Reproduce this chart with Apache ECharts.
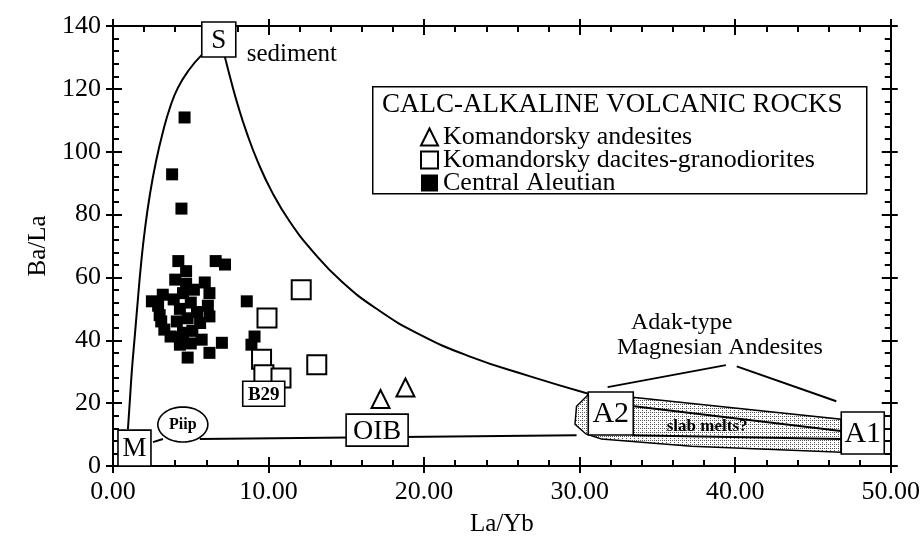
<!DOCTYPE html>
<html><head><meta charset="utf-8">
<script src="https://cdn.jsdelivr.net/npm/echarts@6/dist/echarts.min.js"></script>
<style>html,body{margin:0;padding:0;background:#fff}#c{width:923px;height:542px}</style>
</head><body><div id="c"></div>
<script>
// ---------- DATA ----------
const centralAleutian = [
  [4.6,110.9],[3.8,92.8],[4.4,81.9],
  [4.2,65.2],[6.6,65.2],[7.2,64.1],[4.7,62.0],
  [4.0,59.3],[5.9,58.4],[4.7,58.0],[5.2,56.1],[6.2,55.0],[3.2,54.5],[4.5,55.0],
  [3.9,53.0],[2.5,52.4],[5.0,52.0],[6.1,51.0],[8.6,52.4],[2.9,51.0],[4.3,50.0],
  [5.4,49.0],[3.0,48.0],[6.2,47.6],[4.8,47.0],[3.1,46.0],[4.1,46.0],[5.6,45.5],
  [3.3,43.4],[5.1,43.0],[4.5,42.4],[3.7,41.2],[4.3,41.0],[9.1,41.2],[5.7,40.2],
  [7.0,39.2],[5.0,39.0],[8.9,38.6],[4.3,38.6],[6.2,36.0],[4.8,34.5]
];
const komandorskyDacites = [[12.1,56.1],[9.9,47.1],[9.55,34.0],[9.7,29.0],[10.8,28.0],[13.1,32.2]];
const komandorskyAndesites = [[17.2,21.3],[18.8,25.0]];

const leftCurve = [[0.96,11.7],[1.09,21.3],[1.22,30.8],[1.41,41.9],[1.60,53.0],[1.80,64.1],[2.05,75.2],[2.37,86.3],[2.76,96.8],[3.21,106.3],[3.66,114.0],[4.17,120.3],[4.88,126.0],[5.71,130.8]];
const rightCurve = [[7.19,130.2],[7.57,122.9],[8.02,114.9],[8.60,106.0],[9.31,96.8],[10.21,87.3],[11.36,77.8],[12.84,68.3],[14.70,58.7],[17.01,49.8],[19.70,41.9],[22.91,34.9],[26.77,28.6],[30.62,22.9]];
const slabMeltArea = [[33.4,21.9],[46.8,14.9],[46.8,4.4],[37.2,6.3],[31.4,8.6],[30.4,10.2],[29.7,13.3],[29.8,19.0],[30.6,22.9]];
const segments = [
  [[31.8,25.1],[39.4,32.1]],
  [[40.1,31.7],[46.5,20.6]],
  [[33.5,19.0],[46.8,11.1]],
  [[33.4,9.8],[46.8,8.6]],
  [[2.57,7.6],[3.21,8.6]],
  [[5.58,8.6],[29.8,9.8]]
];
const boxLabels = [
  {t:'S', x:6.8, y:135.7}, {t:'M', x:1.38, y:5.7}, {t:'OIB', x:16.98, y:11.4},
  {t:'A2', x:32.0, y:16.7}, {t:'A1', x:48.2, y:10.5}, {t:'B29', x:9.69, y:23.0}
];
const ovalLabels = [{t:'Piip', x:4.49, y:13.2}];
const freeTexts = [
  {t:'sediment', x:8.6, y:130.8},
  {t:'Adak-type', x:33.3, y:45.7},
  {t:'Magnesian Andesites', x:32.4, y:37.5},
  {t:'slab melts?', x:35.6, y:12.4}
];
const xTickFormat = v => v.toFixed(2);

// ---------- STYLES ----------
const FONT = 'Liberation Serif';
const boxStyle = {
  S:{w:34,h:35,fs:27}, M:{w:33,h:36,fs:27}, OIB:{w:62,h:32,fs:28},
  A2:{w:45,h:43,fs:30}, A1:{w:43,h:42,fs:30}, B29:{w:42,h:25,fs:19,fw:'bold'}
};
const textStyle = {
  'sediment':{fs:25}, 'Adak-type':{fs:24}, 'Magnesian Andesites':{fs:24}, 'slab melts?':{fs:17,fw:'bold'}
};

const pat = document.createElement('canvas');
pat.width = 4; pat.height = 4;
(function(){const g=pat.getContext('2d');g.fillStyle='#fff';g.fillRect(0,0,4,4);g.fillStyle='#555';g.fillRect(0,0,1,1);g.fillRect(2,2,1,1);g.fillRect(2,0,1,1);})();

const chart = echarts.init(document.getElementById('c'), null, {renderer:'canvas'});

function axisBase(extra){
  return Object.assign({
    type:'value', splitLine:{show:false},
    axisLine:{show:true, onZero:false, lineStyle:{color:'#000', width:2}},
    axisLabel:{show:false}, silent:true
  }, extra);
}
const xCommon = {min:0, max:50, interval:10};
const yCommon = {min:0, max:140, interval:20};
const inTick = {show:true, inside:true, length:9, lineStyle:{color:'#000', width:2}};
const outTick = {show:true, inside:false, length:7, lineStyle:{color:'#000', width:2}};
const minor = {show:true, splitNumber:5, length:6, lineStyle:{color:'#000', width:2}};

const xAxes = [
  axisBase(Object.assign({}, xCommon, {position:'bottom', axisTick:inTick, minorTick:minor,
    axisLabel:{show:true, formatter:xTickFormat, fontFamily:FONT, fontSize:26, color:'#000', margin:13},
    name:'La/Yb', nameLocation:'middle', nameGap:46, nameTextStyle:{fontFamily:FONT, fontSize:25, color:'#000'}})),
  axisBase(Object.assign({}, xCommon, {position:'bottom', axisTick:outTick})),
  axisBase(Object.assign({}, xCommon, {position:'top', axisTick:inTick, minorTick:minor})),
  axisBase(Object.assign({}, xCommon, {position:'top', axisTick:outTick}))
];
const yAxes = [
  axisBase(Object.assign({}, yCommon, {position:'left', axisTick:inTick, minorTick:minor,
    axisLabel:{show:true, fontFamily:FONT, fontSize:26, color:'#000', margin:12},
    name:'Ba/La', nameLocation:'middle', nameGap:58, nameTextStyle:{fontFamily:FONT, fontSize:25, color:'#000'}})),
  axisBase(Object.assign({}, yCommon, {position:'left', axisTick:outTick})),
  axisBase(Object.assign({}, yCommon, {position:'right', axisTick:inTick, minorTick:minor})),
  axisBase(Object.assign({}, yCommon, {position:'right', axisTick:outTick}))
];

function renderArea(params, api){
  if (params.dataIndex !== 0) return;
  const pts = slabMeltArea.map(p => api.coord(p));
  return {type:'polygon', shape:{points:pts}, style:{fill:{image:pat, repeat:'repeat'}, stroke:'#000', lineWidth:1.5}};
}
function renderSeg(params, api){
  const s = segments[params.dataIndex];
  return {type:'polyline', shape:{points:s.map(p=>api.coord(p))}, style:{stroke:'#000', lineWidth:2, fill:null}};
}
function renderBox(params, api){
  const b = boxLabels[params.dataIndex];
  const s = boxStyle[b.t];
  const p = api.coord([b.x, b.y]);
  return {type:'group', children:[
    {type:'rect', shape:{x:p[0]-s.w/2, y:p[1]-s.h/2, width:s.w, height:s.h}, style:{fill:'#fff', stroke:'#000', lineWidth:1.6}},
    {type:'text', x:p[0], y:p[1]+1, style:{text:b.t, fontFamily:FONT, fontSize:s.fs, fontWeight:s.fw||'normal', fill:'#000', align:'center', verticalAlign:'middle'}}
  ]};
}
function renderOval(params, api){
  const o = ovalLabels[params.dataIndex];
  const c = api.coord([o.x, o.y]);
  const rx = 25, ry = 17.5, pts = [];
  for (let i=0;i<60;i++){const a=i/60*Math.PI*2; pts.push([c[0]+rx*Math.cos(a), c[1]+ry*Math.sin(a)]);}
  return {type:'group', children:[
    {type:'polygon', shape:{points:pts}, style:{fill:'#fff', stroke:'#000', lineWidth:1.6}},
    {type:'text', x:c[0], y:c[1], style:{text:o.t, fontFamily:FONT, fontSize:16, fontWeight:'bold', fill:'#000', align:'center', verticalAlign:'middle'}}
  ]};
}
function renderText(params, api){
  const o = freeTexts[params.dataIndex];
  const st = textStyle[o.t];
  const c = api.coord([o.x, o.y]);
  return {type:'text', x:c[0], y:c[1], style:{text:o.t, fontFamily:FONT, fontSize:st.fs, fontWeight:st.fw||'normal', fill:'#000', align:'left', verticalAlign:'middle'}};
}

const option = {
  animation:false,
  backgroundColor:'#fff',
  grid:{left:113, right:31, top:26, bottom:75, containLabel:false},
  xAxis:xAxes, yAxis:yAxes,
  graphic:[
    {type:'rect', left:372, top:86, shape:{width:494, height:107}, style:{fill:'#fff', stroke:'#000', lineWidth:1.5}, z:0},
    {type:'text', left:382, top:91, style:{text:'CALC-ALKALINE VOLCANIC ROCKS', fontFamily:FONT, fontSize:27, fill:'#000'}, z:1}
  ],
  legend:{
    orient:'vertical', left:420, top:124, itemWidth:17, itemHeight:17, itemGap:-3, padding:0,
    textStyle:{fontFamily:FONT, fontSize:26, color:'#000'}, selectedMode:false, z:5,
    data:[
      {name:'Komandorsky andesites', icon:'triangle', itemStyle:{color:'#fff', borderColor:'#000', borderWidth:2}},
      {name:'Komandorsky dacites-granodiorites', icon:'rect', itemStyle:{color:'#fff', borderColor:'#000', borderWidth:2}},
      {name:'Central Aleutian', icon:'rect', itemStyle:{color:'#000', borderColor:'#000', borderWidth:0}}
    ]
  },
  series:[
    {type:'line', name:'leftCurve', data:leftCurve, smooth:0.5, showSymbol:false, symbol:'none', lineStyle:{color:'#000', width:2}, z:1, silent:true},
    {type:'line', name:'rightCurve', data:rightCurve, smooth:0.5, showSymbol:false, symbol:'none', lineStyle:{color:'#000', width:2}, z:1, silent:true},
    {type:'custom', name:'slab', data:[slabMeltArea[0]], renderItem:renderArea, z:2, silent:true},
    {type:'custom', name:'segments', data:segments.map(s=>s[0]), renderItem:renderSeg, z:2, silent:true},
    {type:'scatter', name:'Central Aleutian', data:centralAleutian, symbol:'rect', symbolSize:12, itemStyle:{color:'#000', opacity:1}, z:3, silent:true},
    {type:'scatter', name:'Komandorsky dacites-granodiorites', data:komandorskyDacites, symbol:'rect', symbolSize:19, itemStyle:{color:'#fff', borderColor:'#000', borderWidth:2, opacity:1}, z:4, silent:true},
    {type:'scatter', name:'Komandorsky andesites', data:komandorskyAndesites, symbol:'triangle', symbolSize:18, itemStyle:{color:'#fff', borderColor:'#000', borderWidth:2, opacity:1}, z:4, silent:true},
    {type:'custom', name:'boxes', data:boxLabels.map(b=>[b.x,b.y]), renderItem:renderBox, z:6, silent:true},
    {type:'custom', name:'ovals', data:ovalLabels.map(b=>[b.x,b.y]), renderItem:renderOval, z:6, silent:true},
    {type:'custom', name:'texts', data:freeTexts.map(b=>[b.x,b.y]), renderItem:renderText, z:7, silent:true}
  ]
};
chart.setOption(option);
</script>
</body></html>
